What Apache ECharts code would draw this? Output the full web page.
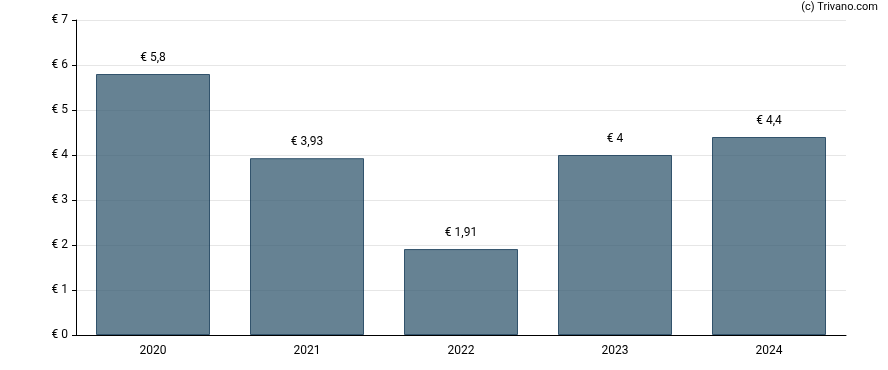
<!DOCTYPE html>
<html><head><meta charset="utf-8">
<script src="https://cdn.jsdelivr.net/npm/echarts@6/dist/echarts.min.js"></script>
<style>html,body{margin:0;padding:0;background:#fff}#c{width:888px;height:370px}</style>
</head><body><div id="c"></div>
<script>
const years = ['2020','2021','2022','2023','2024'];
const dividends = [5.8, 3.93, 1.91, 4, 4.4];
const yTicks = [0,1,2,3,4,5,6,7];

const fmt = v => '€ ' + String(v).replace('.', ',');
const chart = echarts.init(document.getElementById('c'));
chart.setOption({
  animation: false,
  textStyle: {fontFamily: 'Roboto, Arial, sans-serif'},
  graphic: [{type:'text', right: 10, top: 2, style:{text:'(c) Trivano.com', font:'11px Roboto, Arial, sans-serif', fill:'#000'}}],
  grid: {left: 76, right: 42, top: 20, bottom: 35},
  xAxis: {
    type: 'category', data: years,
    axisLine: {lineStyle: {color: '#000'}},
    axisTick: {alignWithLabel: true, length: 4, lineStyle: {color: '#000'}},
    axisLabel: {color: '#000', fontSize: 12, margin: 10}
  },
  yAxis: {
    type: 'value', min: yTicks[0], max: yTicks[yTicks.length-1], interval: 1,
    axisLine: {show: true, lineStyle: {color: '#000'}},
    axisTick: {show: true, length: 4, lineStyle: {color: '#000'}},
    axisLabel: {color: '#000', fontSize: 12, margin: 8, formatter: v => fmt(v)},
    splitLine: {lineStyle: {color: '#e6e6e6'}}
  },
  series: [{
    type: 'bar', data: dividends, barWidth: 114,
    itemStyle: {color: 'rgba(51,88,111,0.75)', borderColor: 'rgba(8,47,78,0.75)', borderWidth: 1},
    label: {show: true, position: 'top', distance: 10, color: '#000', fontSize: 12, formatter: p => fmt(p.value)}
  }]
});
</script></body></html>
